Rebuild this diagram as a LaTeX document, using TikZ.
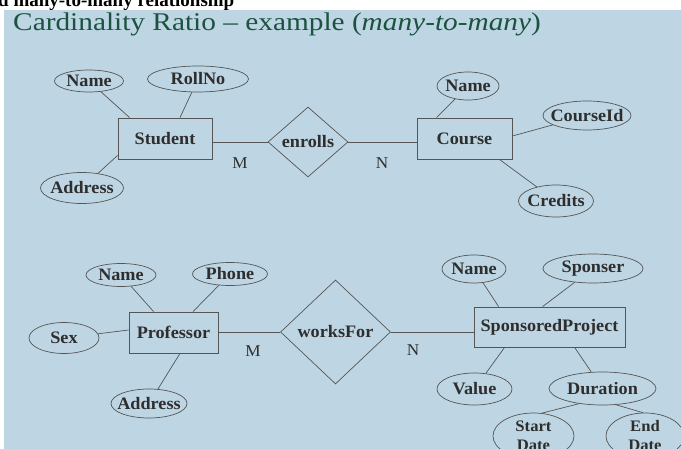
\documentclass[tikz,border=0pt]{standalone}
\usepackage{fontspec}
\setmainfont{Liberation Serif}
\newfontfamily\titlefont[FakeStretch=1.15,Ligatures=TeX]{Liberation Serif}
\newfontfamily\erfont[FakeStretch=1.04,Ligatures=TeX]{Liberation Serif}
\usetikzlibrary{shapes.geometric}
\definecolor{bgblue}{HTML}{BED6E3}
\definecolor{titlegreen}{HTML}{1B5240}
\definecolor{ink}{HTML}{2E2E2E}
\definecolor{edgegray}{HTML}{555555}
\begin{document}
\begin{tikzpicture}[x=1pt,y=-1pt,
  ent/.style={draw=edgegray, line width=0.8pt, rectangle, inner sep=0pt, text=ink,
    font=\erfont\bfseries\fontsize{17.5}{19}\selectfont},
  attr/.style={draw=edgegray, line width=0.7pt, ellipse, inner sep=0pt, text=ink,
    font=\erfont\bfseries\fontsize{17.5}{19}\selectfont},
  attrsmall/.style={attr, align=center, font=\erfont\bfseries\fontsize{16}{19}\selectfont},
  rel/.style={draw=edgegray, line width=0.7pt, diamond, inner sep=0pt, text=ink,
    font=\erfont\bfseries\fontsize{17.5}{19}\selectfont},
  card/.style={text=ink, inner sep=0pt, font=\erfont\fontsize{16.5}{18}\selectfont},
  conn/.style={draw=edgegray, line width=0.7pt}]
\useasboundingbox (0,0) rectangle (681,449);
\clip (0,0) rectangle (681,449);
% header (cut off) and background
\node[anchor=base west, inner sep=0pt, text=black, font=\bfseries\fontsize{19}{21}\selectfont] (hdr) at (-2,7) {d many-to-many relationship};
\fill[bgblue] (4,10) rectangle (681,449);
\node[anchor=base west, inner sep=0pt, text=titlegreen, font=\titlefont\fontsize{25.5}{28}\selectfont] (title) at (13,31) {Cardinality Ratio \textendash{} example (\textit{many-to-many})};

% ---------- top diagram ----------
\node[ent, minimum width=94, minimum height=41] (student) at (165,138.5) {Student};
\node[ent, minimum width=95, minimum height=41] (course) at (464.5,138.5) {Course};
\node[rel, minimum width=80, minimum height=70] (enrolls) at (308,142) {enrolls};

\node[attr, minimum width=69, minimum height=22] (sname) at (89,81) {\makebox[0pt]{Name}};
\node[attr, minimum width=101, minimum height=26] (roll) at (198,79) {\makebox[0pt]{RollNo}};
\node[attr, minimum width=83, minimum height=31] (saddr) at (82,188) {\makebox[0pt]{Address}};

\node[attr, minimum width=62, minimum height=28] (cname) at (468,86) {\makebox[0pt]{Name}};
\node[attr, minimum width=88, minimum height=29] (cid) at (587,115.5) {\makebox[0pt]{CourseId}};
\node[attr, minimum width=75, minimum height=32] (credits) at (556,201) {\makebox[0pt]{Credits}};

\draw[conn] (sname) -- ([xshift=12pt]student.north west);
\draw[conn] (roll) -- ([xshift=15pt]student.north);
\draw[conn] (saddr) -- ([yshift=4pt]student.south west);
\draw[conn] (student.east |- enrolls.west) -- (enrolls.west);
\draw[conn] (enrolls.east) -- (enrolls.east -| course.west);
\draw[conn] (cname) -- ([xshift=20pt]course.north west);
\draw[conn] (cid) -- ([yshift=2.5pt]course.east);
\draw[conn] (credits) -- ([xshift=-13pt]course.south east);

\node[card] (m1) at (240,163) {M};
\node[card] (n1) at (382,163) {N};

% ---------- bottom diagram ----------
\node[ent, minimum width=89, minimum height=41] (prof) at (173.5,332.5) {Professor};
\node[ent, minimum width=151, minimum height=40] (sp) at (549.5,327) {SponsoredProject};
\node[rel, minimum width=110, minimum height=104] (works) at (335.5,332) {worksFor};

\node[attr, minimum width=70, minimum height=23] (pname) at (121,275) {\makebox[0pt]{Name}};
\node[attr, minimum width=75, minimum height=23] (phone) at (230,274) {\makebox[0pt]{Phone}};
\node[attr, minimum width=70, minimum height=31] (sex) at (64,338) {\makebox[0pt]{Sex}};
\node[attr, minimum width=76, minimum height=29] (paddr) at (149,403.5) {\makebox[0pt]{Address}};

\node[attr, minimum width=64, minimum height=28] (spname) at (474,269) {\makebox[0pt]{Name}};
\node[attr, minimum width=100, minimum height=29] (sponser) at (593,268.5) {\makebox[0pt]{Sponser}};
\node[attr, minimum width=75, minimum height=32] (value) at (474.5,389) {\makebox[0pt]{Value}};
\node[attr, minimum width=107, minimum height=33] (dur) at (602.5,388.5) {\makebox[0pt]{Duration}};
\node[attrsmall, minimum width=81, minimum height=46] (sdate) at (533.5,436) {\makebox[0pt]{Start}\\\makebox[0pt]{Date}};
\node[attrsmall, minimum width=78, minimum height=46] (edate) at (645,436) {\makebox[0pt]{End}\\\makebox[0pt]{Date}};

\draw[conn] (pname) -- ([xshift=25pt]prof.north west);
\draw[conn] (phone) -- ([xshift=19.5pt]prof.north);
\draw[conn] (sex) -- ([yshift=2.5pt]prof.west);
\draw[conn] (paddr) -- ([xshift=6.5pt]prof.south);
\draw[conn] (prof.east |- works.west) -- (works.west);
\draw[conn] (works.east) -- (works.east -| sp.west);
\draw[conn] (spname) -- ([xshift=25pt]sp.north west);
\draw[conn] (sponser) -- ([xshift=69pt]sp.north west);
\draw[conn] (value) -- ([xshift=31pt]sp.south west);
\draw[conn] (dur) -- ([xshift=101pt]sp.south west);
\draw[conn] (dur.213) -- (sdate.70);
\draw[conn] (dur.310) -- (edate.95);

\node[card] (m2) at (253,351) {M};
\node[card] (n2) at (413,350) {N};
\end{tikzpicture}
\end{document}
